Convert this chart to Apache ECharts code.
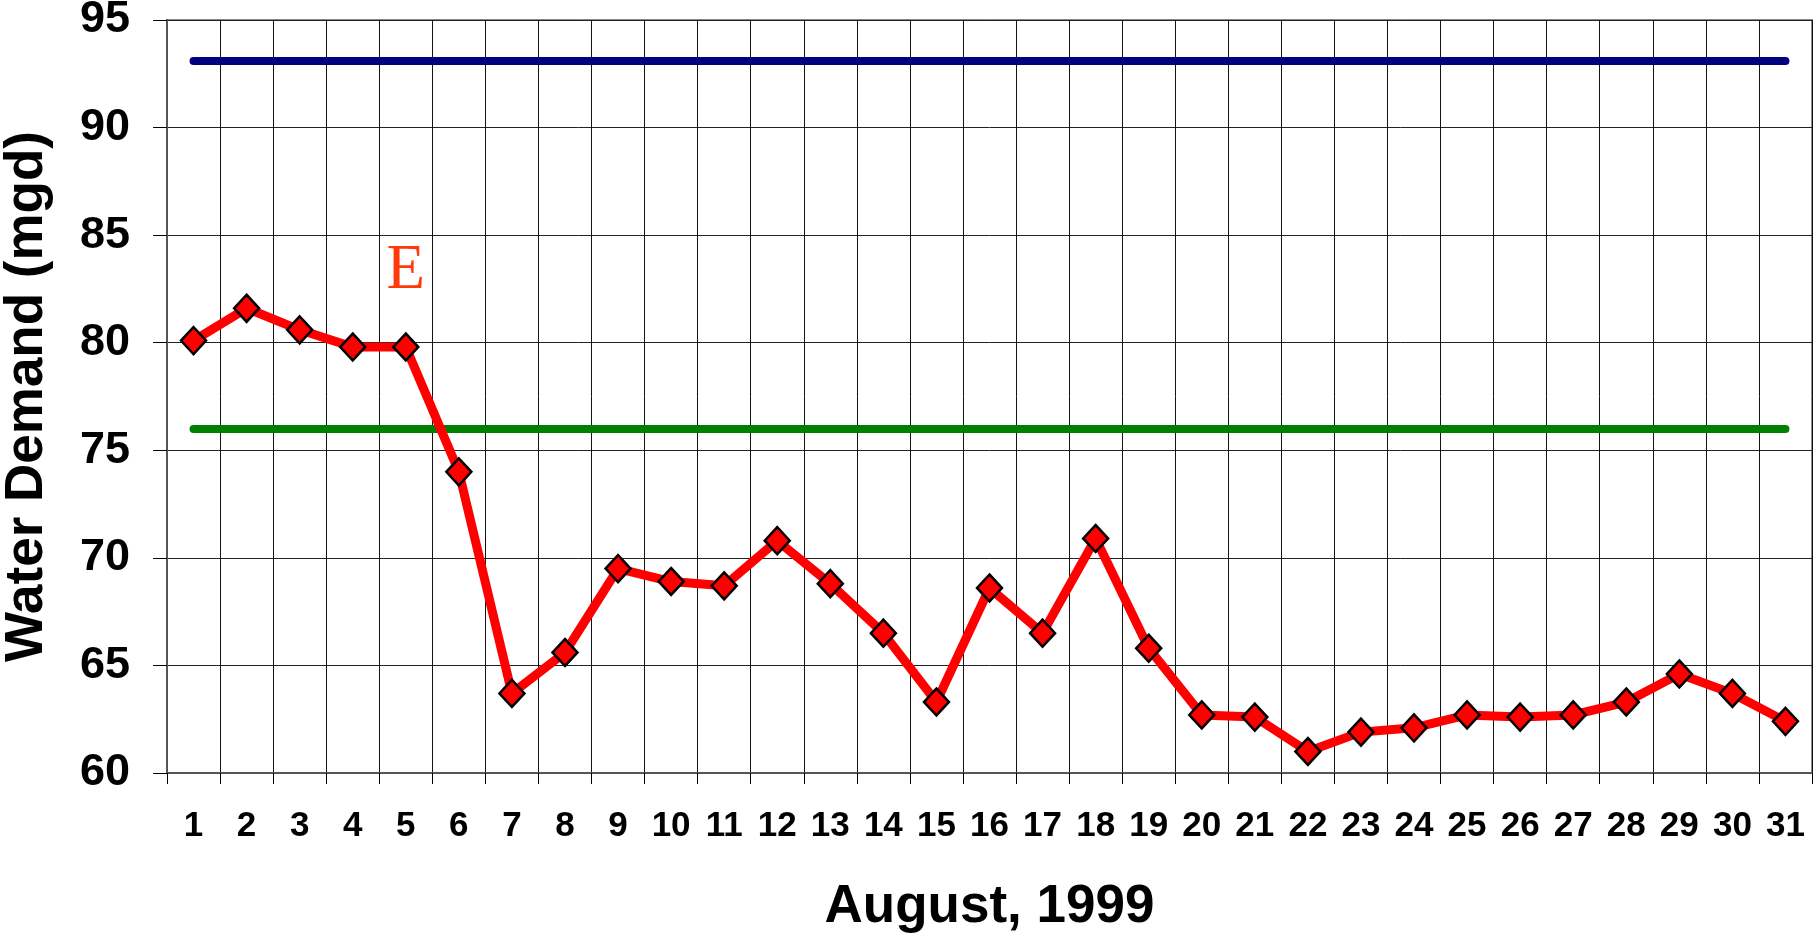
<!DOCTYPE html>
<html>
<head>
<meta charset="utf-8">
<script src="https://cdn.jsdelivr.net/npm/echarts@6/dist/echarts.min.js"></script>
<style>
  html, body { margin: 0; padding: 0; background: #fff; }
  #main { width: 1814px; height: 933px; }
</style>
</head>
<body>
<div id="main"></div>
<script>
// daily water demand, August 1999 (mgd)
var days = ['1','2','3','4','5','6','7','8','9','10','11','12','13','14','15','16',
            '17','18','19','20','21','22','23','24','25','26','27','28','29','30','31'];
var demand = [80.1, 81.6, 80.6, 79.8, 79.8, 74.0, 63.7, 65.6, 69.5, 68.9, 68.7,
              70.8, 68.8, 66.5, 63.3, 68.6, 66.5, 70.9, 65.8, 62.7, 62.6, 61.0,
              61.9, 62.1, 62.7, 62.6, 62.7, 63.3, 64.6, 63.7, 62.4];
var upperLevel = 93.1;   // blue reference line
var lowerLevel = 76;     // green reference line
var yMin = 60, yMax = 95, yStep = 5;
var markerNote = { day: '5', value: 83.3, text: 'E' };

var font = 'Liberation Sans, Arial, sans-serif';

var myChart = echarts.init(document.getElementById('main'));

function flatLine(val, color) {
    var style = { color: color, width: 8, type: 'solid', cap: 'round' };
    return [
        { coord: [days[0], val], lineStyle: style },
        { coord: [days[days.length - 1], val], lineStyle: style }
    ];
}

var option = {
    animation: false,
    backgroundColor: '#fff',
    grid: {
        left: 167, right: 2, top: 20, bottom: 160,
        containLabel: false,
        outerBoundsMode: 'none',
        show: true,
        borderColor: '#8a8a8a',
        borderWidth: 2
    },
    xAxis: {
        type: 'category',
        data: days,
        boundaryGap: true,
        name: 'August, 1999',
        nameLocation: 'middle',
        nameGap: 108,
        nameTextStyle: { fontFamily: font, fontWeight: 'bold', fontSize: 53, color: '#000' },
        axisLine: { lineStyle: { color: '#555', width: 2 } },
        axisTick: { show: true, interval: 0, length: 11, lineStyle: { color: '#000', width: 1 } },
        axisLabel: { interval: 0, margin: 36, fontFamily: font, fontWeight: 'bold', fontSize: 35, color: '#000' },
        splitLine: { show: true, interval: 0, lineStyle: { color: '#111', width: 1 } }
    },
    yAxis: {
        type: 'value',
        min: yMin, max: yMax, interval: yStep,
        name: 'Water Demand (mgd)',
        nameLocation: 'middle',
        nameGap: 113,
        nameTextStyle: { fontFamily: font, fontWeight: 'bold', fontSize: 53, color: '#000' },
        axisLine: { show: true, lineStyle: { color: '#555', width: 2 } },
        axisTick: { show: true, length: 14, lineStyle: { color: '#000', width: 1 } },
        axisLabel: { margin: 37, fontFamily: font, fontWeight: 'bold', fontSize: 45, color: '#000' },
        splitLine: { show: true, lineStyle: { color: '#222', width: 1 } }
    },
    series: [
        {
            name: 'levels',
            type: 'line',
            data: [],
            markLine: {
                silent: true,
                symbol: 'none',
                label: { show: false },
                data: [
                    flatLine(upperLevel, '#000080'),
                    flatLine(lowerLevel, '#008000')
                ]
            }
        },
        {
            name: 'Demand',
            type: 'line',
            data: demand,
            z: 5,
            symbol: 'diamond',
            symbolSize: [25, 27],
            lineStyle: { color: '#ff0000', width: 9 },
            itemStyle: { color: '#ff0000', borderColor: '#000', borderWidth: 2.5 },
            markPoint: {
                silent: true,
                symbol: 'rect',
                symbolSize: 1,
                itemStyle: { color: 'rgba(0,0,0,0)', borderWidth: 0 },
                label: {
                    show: true,
                    position: 'inside',
                    formatter: markerNote.text,
                    fontFamily: 'Liberation Serif, Times New Roman, serif',
                    fontSize: 63,
                    color: '#ff3a0a'
                },
                data: [{ coord: [markerNote.day, markerNote.value] }]
            }
        }
    ]
};

myChart.setOption(option, true);
</script>
</body>
</html>
